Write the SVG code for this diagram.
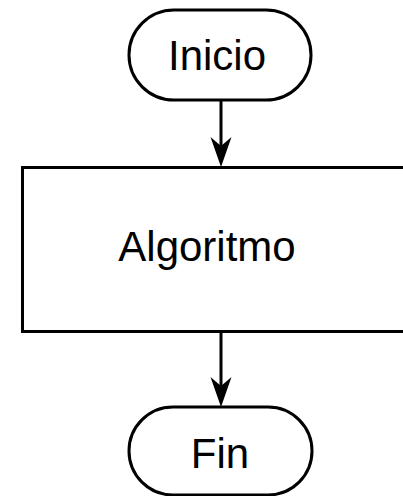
<svg xmlns="http://www.w3.org/2000/svg" width="403" height="496" viewBox="0 0 403 496">
  <style>
    .shape { fill: #ffffff; stroke: #000000; stroke-width: 3; }
    .label { font-family: "Liberation Sans", Arial, sans-serif; font-size: 42px; fill: #000000; text-anchor: middle; }
    .edge { fill: none; stroke: #000000; stroke-width: 3; }
  </style>
  <defs>
    <marker id="arrow" markerUnits="userSpaceOnUse" viewBox="0 -11 30 22" markerWidth="30" markerHeight="22" refX="21" refY="0" orient="auto">
      <path d="M0,-10.5 L30,0 L0,10.5 L9,0 Z" fill="#000000"/>
    </marker>
  </defs>
  <rect width="403" height="496" fill="#ffffff"/>
  <g id="connectors">
    <path class="edge" d="M221,100 L221,158" marker-end="url(#arrow)"/>
    <path class="edge" d="M221,331.5 L221,398" marker-end="url(#arrow)"/>
  </g>
  <g id="inicio">
    <rect class="shape" x="129" y="10" width="182" height="90" rx="45" ry="45"/>
    <text class="label" x="217" y="70">Inicio</text>
  </g>
  <g id="algoritmo">
    <rect class="shape" x="22.5" y="167.5" width="397" height="164"/>
    <text class="label" x="207" y="261">Algoritmo</text>
  </g>
  <g id="fin">
    <rect class="shape" x="129" y="407" width="183" height="88" rx="44" ry="44"/>
    <text class="label" x="220" y="468">Fin</text>
  </g>
</svg>
